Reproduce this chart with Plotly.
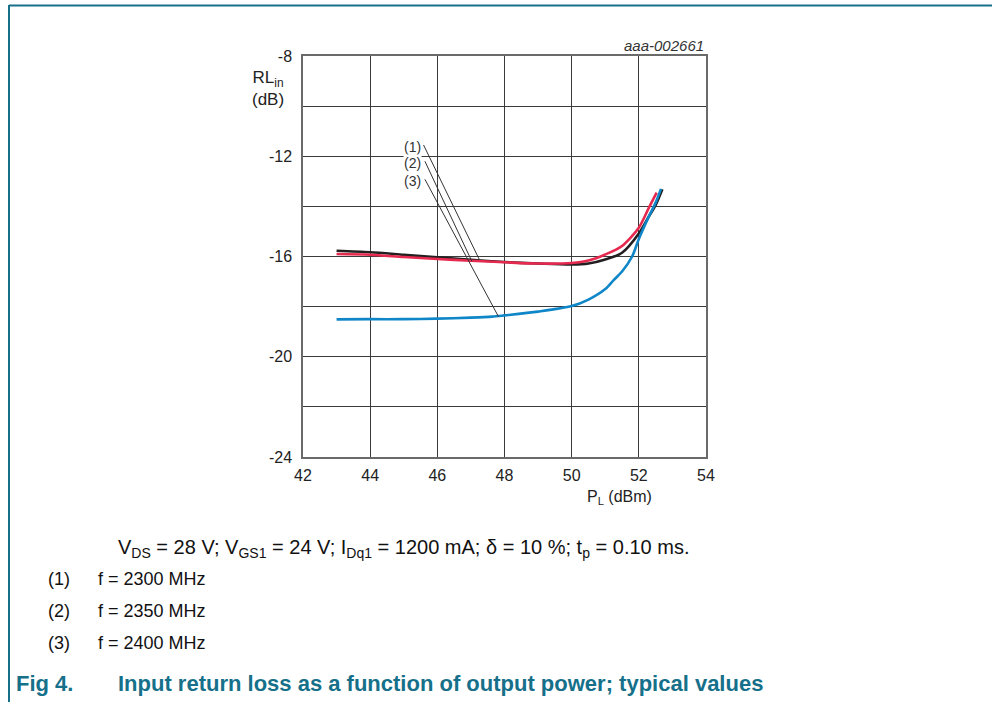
import plotly.graph_objects as go

# ---- data ----
x_2300 = [43, 44, 45, 46, 47, 48, 49, 50, 50.5, 51, 51.5, 52, 52.3, 52.5, 52.7]
y_2300 = [-15.77, -15.83, -15.93, -16.03, -16.13, -16.22, -16.28, -16.32, -16.28, -16.12, -15.85, -15.08, -14.4, -13.95, -13.32]

x_2350 = [43, 44, 45, 46, 47, 48, 49, 50, 50.5, 51, 51.5, 52, 52.3, 52.53]
y_2350 = [-15.9, -15.93, -16.02, -16.1, -16.17, -16.23, -16.28, -16.26, -16.16, -15.92, -15.58, -14.85, -14.05, -13.45]

x_2400 = [43, 44, 45, 46, 47, 47.63, 48, 49, 50, 50.5, 51, 51.25, 51.5, 51.8, 52, 52.3, 52.5, 52.66]
y_2400 = [-18.51, -18.5, -18.5, -18.48, -18.44, -18.4, -18.35, -18.2, -17.98, -17.72, -17.3, -16.94, -16.6, -16.0, -15.3, -14.4, -13.85, -13.3]

series_names = ["f = 2300 MHz", "f = 2350 MHz", "f = 2400 MHz"]
series_colors = ["#231f20", "#e5294f", "#0f86c8"]

x_ticks = [42, 44, 46, 48, 50, 52, 54]
y_ticks = [-24, -22, -20, -18, -16, -14, -12, -10, -8]
y_ticktext = ["-24", "", "-20", "", "-16", "", "-12", "", "-8"]

label_texts = ["(1)", "(2)", "(3)"]
label_x = [45.27, 45.27, 45.27]
label_y = [-11.62, -12.28, -12.99]
leader_x0 = [45.59, 45.63, 45.63]
leader_y0 = [-11.55, -12.2, -12.92]
leader_x1 = [47.25, 47.03, 47.82]
leader_y1 = [-16.12, -16.2, -18.4]

# ---- layout geometry ----
W, H = 992, 702
L, R, T, B = 303, 706, 56, 457
pw, ph = R - L, B - T

def px(xp):
    return (xp - L) / pw

def py(yp):
    return (B - yp) / ph

FONT = "Liberation Sans, Arial, sans-serif"
TEAL = "#16708a"

fig = go.Figure()
for xs, ys, name, col in zip([x_2300, x_2350, x_2400], [y_2300, y_2350, y_2400], series_names, series_colors):
    fig.add_trace(go.Scatter(x=xs, y=ys, mode="lines", name=name,
                             line=dict(color=col, width=2.6, shape="spline", smoothing=0.8),
                             showlegend=False, hoverinfo="skip"))

for i in range(3):
    fig.add_shape(type="line", xref="x", yref="y", x0=leader_x0[i], y0=leader_y0[i],
                  x1=leader_x1[i], y1=leader_y1[i], line=dict(color="#333333", width=1))
    fig.add_annotation(x=label_x[i], y=label_y[i], xref="x", yref="y", text=label_texts[i],
                       showarrow=False, font=dict(family=FONT, size=14, color="#333333"),
                       bgcolor="white", borderpad=0)

fig.update_xaxes(range=[42, 54], tickvals=x_ticks, ticktext=[str(v) for v in x_ticks],
                 showgrid=True, gridcolor="#3a3a3a", gridwidth=1,
                 showline=True, linecolor="#6a6a6a", linewidth=1.5, mirror=True,
                 zeroline=False, ticks="", ticklabelstandoff=3,
                 tickfont=dict(family=FONT, size=16, color="#222222"))
fig.update_yaxes(range=[-24, -8], tickvals=y_ticks, ticktext=y_ticktext,
                 showgrid=True, gridcolor="#3a3a3a", gridwidth=1,
                 showline=True, linecolor="#6a6a6a", linewidth=1.5, mirror=True,
                 zeroline=False, ticks="", ticklabelstandoff=6,
                 tickfont=dict(family=FONT, size=16, color="#222222"))

annots = [
    dict(x=px(268), y=py(88), text="RL<sub>in</sub><br>(dB)", size=17, color="#222222", xanchor="center"),
    dict(x=px(619), y=py(497), text="P<sub>L</sub> (dBm)", size=16, color="#222222", xanchor="center"),
    dict(x=px(706), y=py(45), text="<i>aaa-002661</i>", size=15, color="#333333", xanchor="right"),
    dict(x=px(116), y=py(548), text="V<sub>DS</sub> = 28 V; V<sub>GS1</sub> = 24 V; I<sub>Dq1</sub> = 1200 mA; δ = 10 %; t<sub>p</sub> = 0.10 ms.",
         size=20, color="#111111", xanchor="left"),
    dict(x=px(46), y=py(579), text="(1)", size=18, color="#111111", xanchor="left"),
    dict(x=px(46), y=py(611), text="(2)", size=18, color="#111111", xanchor="left"),
    dict(x=px(46), y=py(643), text="(3)", size=18, color="#111111", xanchor="left"),
    dict(x=px(96), y=py(579), text=series_names[0], size=18, color="#111111", xanchor="left"),
    dict(x=px(96), y=py(611), text=series_names[1], size=18, color="#111111", xanchor="left"),
    dict(x=px(96), y=py(643), text=series_names[2], size=18, color="#111111", xanchor="left"),
    dict(x=px(14), y=py(683), text="<b>Fig 4.</b>", size=22, color=TEAL, xanchor="left"),
    dict(x=px(116), y=py(683), text="<b>Input return loss as a function of output power; typical values</b>",
         size=22, color=TEAL, xanchor="left"),
]
for a in annots:
    fig.add_annotation(x=a["x"], y=a["y"], xref="paper", yref="paper", text=a["text"],
                       showarrow=False, xanchor=a["xanchor"], yanchor="middle",
                       font=dict(family=FONT, size=a["size"], color=a["color"]))

# page frame
fig.add_shape(type="line", xref="paper", yref="paper", x0=px(9), y0=py(5.5), x1=px(992), y1=py(5.5),
              line=dict(color=TEAL, width=2))
fig.add_shape(type="line", xref="paper", yref="paper", x0=px(9), y0=py(5), x1=px(9), y1=py(702),
              line=dict(color=TEAL, width=2))

fig.update_layout(width=W, height=H, margin=dict(l=L, r=W - R, t=T, b=H - B),
                  paper_bgcolor="white", plot_bgcolor="white", showlegend=False)

fig.write_html("out.html")
